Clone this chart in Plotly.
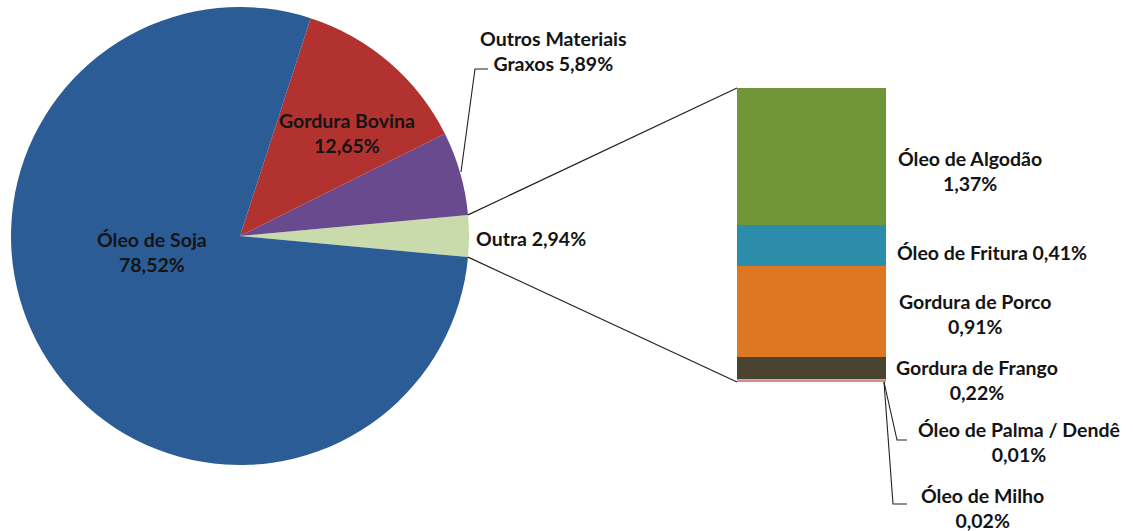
import math
import plotly.graph_objects as go

# Main composition (pie)
pie_labels = ["Outra", "Outros Materiais Graxos", "Gordura Bovina", "Óleo de Soja"]
pie_values = [2.94, 5.89, 12.65, 78.52]
pie_colors = ["#C9DAAB", "#6A4A8E", "#B1322F", "#2C5C96"]

# Breakdown of "Outra" (stacked bar, top to bottom)
sub_labels = ["Óleo de Algodão", "Óleo de Fritura", "Gordura de Porco",
              "Gordura de Frango", "Óleo de Palma / Dendê", "Óleo de Milho"]
sub_values = [1.37, 0.41, 0.91, 0.22, 0.01, 0.02]
sub_colors = ["#719639", "#2C8DAA", "#DD7722", "#4A4330", "#E4A3A3", "#D98C8C"]

W, H = 1133, 531
FONT = "Lato"
TXT = "#141414"


def pct(v):
    return f"{v:.2f}".replace(".", ",") + "%"


def P(x, y):
    """pixel -> paper coordinates"""
    return x / W, 1 - y / H


# pie geometry (pixels)
cx, cy, R = 240, 236, 229
pie_dom_x = [(cx - R) / W, (cx + R) / W]
pie_dom_y = [1 - (cy + R) / H, 1 - (cy - R) / H]

# bar geometry (pixels)
bx0, bx1, by_top, by_bot = 737, 886, 88, 382

total_sub = sum(sub_values)
half_deg = pie_values[0] / sum(pie_values) * 180

fig = go.Figure()

# first slice ("Outra") centred on the 3 o'clock direction
fig.add_trace(go.Pie(
    labels=pie_labels, values=pie_values, sort=False,
    direction="counterclockwise",
    rotation=90 - half_deg,
    marker=dict(colors=pie_colors, line=dict(width=0)),
    textinfo="none", hoverinfo="label+percent",
    domain=dict(x=pie_dom_x, y=pie_dom_y),
    showlegend=False,
))

# stacked bar drawn bottom-up
for lab, val, col in reversed(list(zip(sub_labels, sub_values, sub_colors))):
    fig.add_trace(go.Bar(
        x=[0], y=[val], name=lab, marker=dict(color=col, line=dict(width=0)),
        width=1, showlegend=False, hoverinfo="name+y",
    ))

# connector lines from the "Outra" slice edges to the bar corners
half = math.radians(half_deg)
top_pt = (cx + R * math.cos(half), cy - R * math.sin(half))
bot_pt = (cx + R * math.cos(half), cy + R * math.sin(half))
shapes = []
for (px_, py_), (qx, qy) in [(top_pt, (bx0, by_top)), (bot_pt, (bx0, by_bot))]:
    a, b = P(px_, py_)
    c, d = P(qx, qy)
    shapes.append(dict(type="line", xref="paper", yref="paper",
                       x0=a, y0=b, x1=c, y1=d,
                       line=dict(color="#222", width=1.2)))


# leader lines
def leader(points):
    path = "M " + " L ".join(f"{P(x, y)[0]},{P(x, y)[1]}" for x, y in points)
    shapes.append(dict(type="path", path=path, xref="paper", yref="paper",
                       line=dict(color="#222", width=1.1)))


leader([(461, 172), (475, 69), (488, 69)])          # Outros Materiais Graxos
leader([(884, 382), (897, 440), (907, 440)])        # Palma / Dendê
leader([(884, 382), (893, 504), (907, 504)])        # Milho

annotations = []


def label(text, x, y, xanchor="center"):
    ax, ay = P(x, y)
    annotations.append(dict(text=text, x=ax, y=ay, xref="paper", yref="paper",
                            xanchor=xanchor, yanchor="middle", showarrow=False,
                            align="center",
                            font=dict(family=FONT, size=19.5, color=TXT,
                                      weight="bold")))


label(f"{pie_labels[3]}<br>{pct(pie_values[3])}", 152, 252)
label(f"{pie_labels[2]}<br>{pct(pie_values[2])}", 347, 133)
label(f"Outros Materiais<br>Graxos {pct(pie_values[1])}", 553, 51)
label(f"{pie_labels[0]} {pct(pie_values[0])}", 474, 238, "left")

label(f"{sub_labels[0]}<br>{pct(sub_values[0])}", 970, 171)
label(f"{sub_labels[1]} {pct(sub_values[1])}", 992, 252)
label(f"{sub_labels[2]}<br>{pct(sub_values[2])}", 975, 314)
label(f"{sub_labels[3]}<br>{pct(sub_values[3])}", 977, 380)
label(f"{sub_labels[4]}<br>{pct(sub_values[4])}", 1019, 442)
label(f"{sub_labels[5]}<br>{pct(sub_values[5])}", 982, 508)

fig.update_layout(
    width=W, height=H, margin=dict(l=0, r=0, t=0, b=0),
    paper_bgcolor="white", plot_bgcolor="rgba(0,0,0,0)",
    barmode="stack", bargap=0,
    xaxis=dict(domain=[bx0 / W, bx1 / W], range=[-0.5, 0.5], visible=False,
               fixedrange=True),
    yaxis=dict(domain=[1 - by_bot / H, 1 - by_top / H], range=[0, total_sub],
               visible=False, fixedrange=True),
    shapes=shapes, annotations=annotations,
)

fig.write_html("out.html")
